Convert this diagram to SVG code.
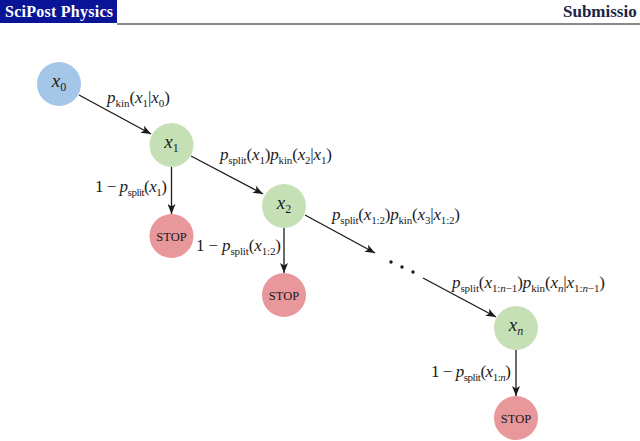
<svg xmlns="http://www.w3.org/2000/svg" width="640" height="441" viewBox="0 0 640 441">
<style>
.m{font-family:"Liberation Serif",serif;font-size:17px;fill:#1a1a1a}
.i{font-style:italic}
.s{font-size:11px}
.n{font-family:"Liberation Serif",serif;font-size:19px;fill:#1a1a1a;text-anchor:middle}
.ns{font-size:12px}
.stop{font-family:"Liberation Serif",serif;font-size:12.5px;fill:#1a1a1a;text-anchor:middle}
.blue{fill:#a4c6e8}
.green{fill:#c6e0b6}
.red{fill:#e8979a}
.e{stroke:#1a1a1a;stroke-width:1.3;fill:none;marker-end:url(#ah)}
</style>
<defs>
<marker id="ah" viewBox="0 0 10 8" refX="10" refY="4" markerWidth="10" markerHeight="8" markerUnits="userSpaceOnUse" orient="auto">
<path d="M0,0 L10,4 L0,8 L2.5,4 Z" fill="#1a1a1a"/>
</marker>
</defs>
<rect width="640" height="441" fill="#ffffff"/>
<g id="header">
<rect x="0" y="0" width="117" height="23" fill="#0a1496"/>
<line x1="117" y1="24" x2="640" y2="24" stroke="#8a8a8a" stroke-width="2"/>
<text x="5" y="17" font-family="Liberation Serif,serif" font-weight="bold" font-size="16" fill="#ffffff" textLength="108" lengthAdjust="spacing">SciPost Physics</text>
<text x="563" y="17" font-family="Liberation Serif,serif" font-weight="bold" font-size="17" fill="#1c2545">Submissio</text>
</g>
<g id="connectors">
<line class="e" x1="79" y1="95" x2="151" y2="134"/>
<line class="e" x1="191" y1="156" x2="263" y2="194"/>
<line class="e" x1="171.5" y1="167" x2="171.5" y2="214"/>
<line class="e" x1="284" y1="228" x2="284" y2="273"/>
<line class="e" x1="305" y1="215" x2="375" y2="253"/>
<line class="e" x1="423" y1="278" x2="496" y2="317"/>
<line class="e" x1="516" y1="350" x2="516" y2="396"/>
<circle cx="391" cy="262" r="1.7" fill="#1a1a1a"/>
<circle cx="402" cy="267" r="1.7" fill="#1a1a1a"/>
<circle cx="413" cy="272" r="1.7" fill="#1a1a1a"/>
<text class="m" x="107" y="103" textLength="63" lengthAdjust="spacing"><tspan class="i">p</tspan><tspan class="s" dy="4">kin</tspan><tspan dy="-4">(</tspan><tspan class="i">x</tspan><tspan class="s" dy="4">1</tspan><tspan dy="-4">|</tspan><tspan class="i">x</tspan><tspan class="s" dy="4">0</tspan><tspan dy="-4">)</tspan></text>
<text class="m" x="220" y="160" textLength="112" lengthAdjust="spacing"><tspan class="i">p</tspan><tspan class="s" dy="4">split</tspan><tspan dy="-4">(</tspan><tspan class="i">x</tspan><tspan class="s" dy="4">1</tspan><tspan dy="-4">)</tspan><tspan class="i">p</tspan><tspan class="s" dy="4">kin</tspan><tspan dy="-4">(</tspan><tspan class="i">x</tspan><tspan class="s" dy="4">2</tspan><tspan dy="-4">|</tspan><tspan class="i">x</tspan><tspan class="s" dy="4">1</tspan><tspan dy="-4">)</tspan></text>
<text class="m" x="95" y="192" textLength="72" lengthAdjust="spacing">1 − <tspan class="i">p</tspan><tspan class="s" dy="4">split</tspan><tspan dy="-4">(</tspan><tspan class="i">x</tspan><tspan class="s" dy="4">1</tspan><tspan dy="-4">)</tspan></text>
<text class="m" x="196" y="251" textLength="85" lengthAdjust="spacing">1 − <tspan class="i">p</tspan><tspan class="s" dy="4">split</tspan><tspan dy="-4">(</tspan><tspan class="i">x</tspan><tspan class="s" dy="4">1:2</tspan><tspan dy="-4">)</tspan></text>
<text class="m" x="332" y="220" textLength="128" lengthAdjust="spacing"><tspan class="i">p</tspan><tspan class="s" dy="4">split</tspan><tspan dy="-4">(</tspan><tspan class="i">x</tspan><tspan class="s" dy="4">1:2</tspan><tspan dy="-4">)</tspan><tspan class="i">p</tspan><tspan class="s" dy="4">kin</tspan><tspan dy="-4">(</tspan><tspan class="i">x</tspan><tspan class="s" dy="4">3</tspan><tspan dy="-4">|</tspan><tspan class="i">x</tspan><tspan class="s" dy="4">1:2</tspan><tspan dy="-4">)</tspan></text>
<text class="m" x="452" y="288" textLength="153" lengthAdjust="spacing"><tspan class="i">p</tspan><tspan class="s" dy="4">split</tspan><tspan dy="-4">(</tspan><tspan class="i">x</tspan><tspan class="s" dy="4">1:<tspan class="i">n</tspan>−1</tspan><tspan dy="-4">)</tspan><tspan class="i">p</tspan><tspan class="s" dy="4">kin</tspan><tspan dy="-4">(</tspan><tspan class="i">x</tspan><tspan class="s i" dy="4">n</tspan><tspan dy="-4">|</tspan><tspan class="i">x</tspan><tspan class="s" dy="4">1:<tspan class="i">n</tspan>−1</tspan><tspan dy="-4">)</tspan></text>
<text class="m" x="431" y="377" textLength="80" lengthAdjust="spacing">1 − <tspan class="i">p</tspan><tspan class="s" dy="4">split</tspan><tspan dy="-4">(</tspan><tspan class="i">x</tspan><tspan class="s" dy="4">1:<tspan class="i">n</tspan></tspan><tspan dy="-4">)</tspan></text>
</g>
<g id="x0"><circle class="blue" cx="59" cy="84" r="22"/><text class="n" x="59" y="87"><tspan class="i">x</tspan><tspan class="ns" dy="4">0</tspan></text></g>
<g id="x1"><circle class="green" cx="171.5" cy="145" r="22"/><text class="n" x="171.5" y="148"><tspan class="i">x</tspan><tspan class="ns" dy="4">1</tspan></text></g>
<g id="stop1"><circle class="red" cx="171.5" cy="236" r="22"/><text class="stop" x="171.5" y="240.5">STOP</text></g>
<g id="x2"><circle class="green" cx="284" cy="206" r="22"/><text class="n" x="284" y="209"><tspan class="i">x</tspan><tspan class="ns" dy="4">2</tspan></text></g>
<g id="stop2"><circle class="red" cx="284" cy="295" r="22"/><text class="stop" x="284" y="299.5">STOP</text></g>
<g id="xn"><circle class="green" cx="516" cy="328" r="22"/><text class="n" x="516" y="331"><tspan class="i">x</tspan><tspan class="ns i" dy="4">n</tspan></text></g>
<g id="stop3"><circle class="red" cx="516" cy="418" r="22"/><text class="stop" x="516" y="422.5">STOP</text></g>
</svg>
